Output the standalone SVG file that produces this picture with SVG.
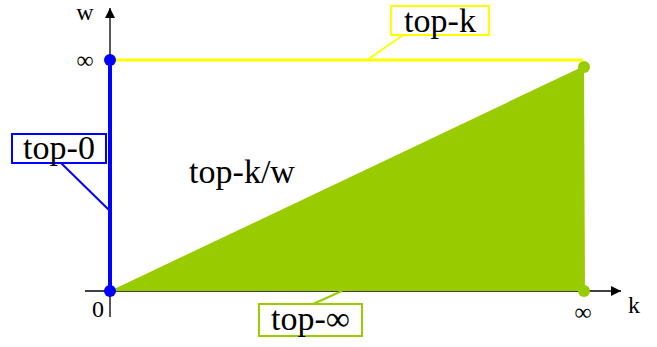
<svg xmlns="http://www.w3.org/2000/svg" width="657" height="347" viewBox="0 0 657 347">
<style>
text{font-family:"Liberation Serif","DejaVu Serif",serif;fill:#000;text-anchor:middle}
.lbl{font-size:34px}
.ax{font-size:24px}
.axis{stroke:#000;stroke-width:1.3;fill:none}
</style>
<defs>
<marker id="arr" viewBox="0 0 10 10" refX="10" refY="5" markerWidth="14" markerHeight="10" markerUnits="userSpaceOnUse" orient="auto">
<path d="M0,0 L10,5 L0,10 Z" fill="#000"/>
</marker>
</defs>
<g id="axes">
<line class="axis" x1="110" y1="317" x2="110" y2="8" marker-end="url(#arr)"/>
<line class="axis" x1="85" y1="291" x2="621" y2="291" marker-end="url(#arr)"/>
<text class="ax" x="85" y="20" font-family="Liberation Serif, serif">w</text>
<text class="ax" x="85" y="68" font-family="Liberation Serif, serif">∞</text>
<text class="ax" x="98" y="317" font-family="Liberation Serif, serif">0</text>
<text class="ax" x="634" y="313" font-family="Liberation Serif, serif">k</text>
<text class="ax" x="583" y="320" font-family="Liberation Serif, serif">∞</text>
</g>
<g id="region-inf">
<polygon points="110,291 584,66 585,291" fill="#99cc00"/>
<circle cx="584" cy="67" r="6" fill="#99cc00"/>
<circle cx="584" cy="291" r="6" fill="#99cc00"/>
</g>
<g id="line-k">
<line x1="110" y1="60" x2="583" y2="60" stroke="#ffff00" stroke-width="3"/>
</g>
<g id="line-0">
<line x1="110" y1="60" x2="110" y2="291" stroke="#0000ff" stroke-width="4"/>
<circle cx="110" cy="60" r="6" fill="#0000ff"/>
<circle cx="110" cy="291" r="6" fill="#0000ff"/>
</g>
<g id="connectors">
<line x1="367" y1="60" x2="403" y2="35" stroke="#ffff00" stroke-width="2"/>
<line x1="61" y1="163" x2="109" y2="210" stroke="#0000ff" stroke-width="2"/>
<line x1="313" y1="304" x2="342" y2="291" stroke="#99cc00" stroke-width="2"/>
</g>
<g id="label-top-k">
<rect x="391" y="6" width="98" height="29" fill="#fff" stroke="#ffff00" stroke-width="2"/>
<text class="lbl" x="440" y="32" font-family="Liberation Serif, serif">top-k</text>
</g>
<g id="label-top-0">
<rect x="12" y="134" width="94" height="29" fill="#fff" stroke="#0000ff" stroke-width="2"/>
<text class="lbl" x="59" y="159" font-family="Liberation Serif, serif">top-0</text>
</g>
<g id="label-top-inf">
<rect x="259" y="304" width="103" height="32" fill="#fff" stroke="#99cc00" stroke-width="2"/>
<text class="lbl" x="310.5" y="330" font-family="Liberation Serif, serif">top-∞</text>
</g>
<g id="label-top-kw">
<text class="lbl" x="242" y="183" font-family="Liberation Serif, serif">top-k/w</text>
</g>
</svg>
